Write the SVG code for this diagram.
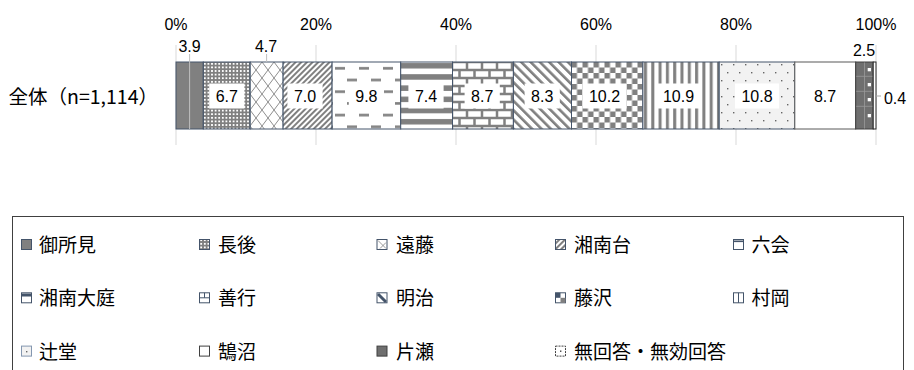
<svg xmlns="http://www.w3.org/2000/svg" width="914" height="370" viewBox="0 0 914 370">
<style>
.num{font-family:"Liberation Sans",Arial,sans-serif;font-size:16px;fill:#000;text-anchor:middle}
.jp{font-family:"Noto Sans CJK JP","Noto Sans",sans-serif;font-size:19px;fill:#000}
.grid{stroke:#d9d9d9;stroke-width:1}
.seg{stroke:#44546a;stroke-width:1}
.lbox{fill:#fff}
.lead{stroke:#bfbfbf;stroke-width:1;fill:none}
.sym{stroke:#44546a;stroke-width:1}
</style>
<defs>
<pattern id="p-chogo" patternUnits="userSpaceOnUse" x="203" y="62" width="3.6" height="3.6"><rect width="3.6" height="3.6" fill="#808080"/><rect x="0.9" y="0.9" width="1.8" height="1.8" fill="#fff"/></pattern>
<pattern id="p-endo" patternUnits="userSpaceOnUse" x="250" y="62" width="12" height="16"><rect width="12" height="16" fill="#fff"/><path d="M0 0L12 16M12 0L0 16" stroke="#808080" stroke-width="0.9"/></pattern>
<pattern id="p-shonandai" patternUnits="userSpaceOnUse" width="4" height="4" patternTransform="rotate(45)"><rect width="4" height="4" fill="#fff"/><rect width="2" height="4" fill="#808080"/></pattern>
<pattern id="p-mutsuai" patternUnits="userSpaceOnUse" x="332" y="62" width="24" height="23.4"><rect width="24" height="23.4" fill="#fff"/><rect x="3" y="5" width="10" height="2.6" fill="#808080"/><rect x="15" y="16.7" width="10" height="2.6" fill="#808080"/><rect x="-9" y="16.7" width="10" height="2.6" fill="#808080"/></pattern>
<pattern id="p-oba" patternUnits="userSpaceOnUse" x="0" y="62" width="8" height="11.2"><rect width="8" height="11.2" fill="#fff"/><rect y="1" width="8" height="5.5" fill="#808080"/></pattern>
<pattern id="p-zengyo" patternUnits="userSpaceOnUse" x="452" y="62" width="15" height="16"><rect width="15" height="16" fill="#808080"/><rect x="1.25" y="1.25" width="12.5" height="5.5" fill="#fff"/><rect x="8.75" y="9.25" width="12.5" height="5.5" fill="#fff"/><rect x="-6.25" y="9.25" width="12.5" height="5.5" fill="#fff"/></pattern>
<pattern id="p-meiji" patternUnits="userSpaceOnUse" width="6.6" height="6.6" patternTransform="rotate(-45)"><rect width="6.6" height="6.6" fill="#fff"/><rect width="2.6" height="6.6" fill="#808080"/></pattern>
<pattern id="p-fujisawa" patternUnits="userSpaceOnUse" x="571.5" y="62" width="11" height="11"><rect width="11" height="11" fill="#fff"/><rect width="5.5" height="5.5" fill="#808080"/><rect x="5.5" y="5.5" width="5.5" height="5.5" fill="#808080"/></pattern>
<pattern id="p-muraoka" patternUnits="userSpaceOnUse" x="643" y="0" width="7.3" height="10"><rect width="7.3" height="10" fill="#fff"/><rect x="1" width="3" height="10" fill="#808080"/></pattern>
<pattern id="p-tsujido" patternUnits="userSpaceOnUse" x="719" y="62" width="12" height="16"><rect width="12" height="16" fill="#f2f2f2"/><rect x="2" y="2" width="1.4" height="1.4" fill="#666"/><rect x="8" y="10" width="1.4" height="1.4" fill="#666"/></pattern>
</defs>
<rect width="914" height="370" fill="#fff"/>

<g id="axis">
<line class="grid" x1="176" y1="45" x2="176" y2="145"/>
<line class="grid" x1="316" y1="45" x2="316" y2="145"/>
<line class="grid" x1="456" y1="45" x2="456" y2="145"/>
<line class="grid" x1="596" y1="45" x2="596" y2="145"/>
<line class="grid" x1="736" y1="45" x2="736" y2="145"/>
<line class="grid" x1="876" y1="45" x2="876" y2="145"/>
<text class="num" x="176" y="30">0%</text>
<text class="num" x="316" y="30">20%</text>
<text class="num" x="456" y="30">40%</text>
<text class="num" x="596" y="30">60%</text>
<text class="num" x="736" y="30">80%</text>
<text class="num" x="876" y="30">100%</text>
</g>

<text id="category" class="jp" x="158" y="104" text-anchor="end" style="font-size:19.5px">全体（n=1,114）</text>

<g id="bar">
<g id="seg-goshomi"><rect class="seg" x="176" y="62" width="27.3" height="67" fill="#808080"/></g>
<g id="seg-chogo"><rect class="seg" x="203.3" y="62" width="46.9" height="67" fill="url(#p-chogo)"/></g>
<g id="seg-endo"><rect class="seg" x="250.2" y="62" width="32.9" height="67" fill="url(#p-endo)"/></g>
<g id="seg-shonandai"><rect class="seg" x="283.1" y="62" width="49" height="67" fill="url(#p-shonandai)"/></g>
<g id="seg-mutsuai"><rect class="seg" x="332.1" y="62" width="68.6" height="67" fill="url(#p-mutsuai)"/></g>
<g id="seg-shonanoba"><rect class="seg" x="400.7" y="62" width="51.8" height="67" fill="url(#p-oba)"/></g>
<g id="seg-zengyo"><rect class="seg" x="452.5" y="62" width="60.9" height="67" fill="url(#p-zengyo)"/></g>
<g id="seg-meiji"><rect class="seg" x="513.4" y="62" width="58.1" height="67" fill="url(#p-meiji)"/></g>
<g id="seg-fujisawa"><rect class="seg" x="571.5" y="62" width="71.4" height="67" fill="url(#p-fujisawa)"/></g>
<g id="seg-muraoka"><rect class="seg" x="642.9" y="62" width="76.3" height="67" fill="url(#p-muraoka)"/></g>
<g id="seg-tsujido"><rect class="seg" x="719.2" y="62" width="75.6" height="67" fill="url(#p-tsujido)" stroke="#8497b0"/></g>
<g id="seg-kugenuma"><rect x="794.8" y="62" width="60.9" height="67" fill="#fff" stroke="#595959" stroke-width="1"/></g>
<g id="seg-katase">
<rect x="855.7" y="62" width="17.5" height="67" fill="#6f6f6f" stroke="#404040" stroke-width="1"/>
<path d="M864.5 62.5V128.5M856.2 76.3H872.7M856.2 91.3H872.7M856.2 106.3H872.7" stroke="#9a9a9a" stroke-width="0.8" fill="none"/>
<rect x="867.7" y="68" width="3.3" height="3.3" fill="#fff"/>
<rect x="867.7" y="83" width="3.3" height="3.3" fill="#fff"/>
<rect x="867.7" y="98" width="3.3" height="3.3" fill="#fff"/>
<rect x="867.7" y="114" width="3.3" height="3.3" fill="#fff"/>
</g>
<g id="seg-noanswer"><rect x="873.2" y="62" width="2.8" height="67" fill="#fff" stroke="#262626" stroke-width="1"/></g>
</g>

<g id="connectors">
<line class="lead" x1="189.6" y1="54" x2="189.6" y2="129"/>
<line class="lead" x1="266.6" y1="54" x2="266.6" y2="62"/>
<line x1="876" y1="96" x2="881" y2="96" stroke="#a6a6a6" stroke-width="1"/>
</g>

<g id="data-labels">
<text class="num" x="189.6" y="52">3.9</text>
<text class="num" x="266" y="52">4.7</text>
<text class="num" x="864" y="56">2.5</text>
<text class="num" x="895" y="104">0.4</text>
<rect class="lbox" x="209.2" y="83.5" width="35.2" height="25"/><text class="num" x="226.8" y="102">6.7</text>
<rect class="lbox" x="287.4" y="83.5" width="35.2" height="25"/><text class="num" x="305" y="102">7.0</text>
<rect class="lbox" x="348.8" y="83.5" width="35.2" height="25"/><text class="num" x="366.4" y="102">9.8</text>
<rect class="lbox" x="408.4" y="83.5" width="35.2" height="25"/><text class="num" x="426" y="102">7.4</text>
<rect class="lbox" x="464.6" y="83.5" width="35.2" height="25"/><text class="num" x="482.2" y="102">8.7</text>
<rect class="lbox" x="524.6" y="83.5" width="35.2" height="25"/><text class="num" x="542.2" y="102">8.3</text>
<rect class="lbox" x="582.5" y="83.5" width="44" height="25"/><text class="num" x="604.5" y="102">10.2</text>
<rect class="lbox" x="656.5" y="83.5" width="44" height="25"/><text class="num" x="678.5" y="102">10.9</text>
<rect class="lbox" x="735" y="83.5" width="44" height="25"/><text class="num" x="757" y="102">10.8</text>
<text class="num" x="825" y="102">8.7</text>
</g>

<g id="legend">
<rect x="12.5" y="216.5" width="891" height="170" fill="none" stroke="#404040" stroke-width="1"/>
<g id="lg-goshomi"><rect class="sym" x="21.5" y="239.5" width="10" height="10" fill="#808080"/><text class="jp" x="39" y="252">御所見</text></g>
<g id="lg-chogo"><rect class="sym" x="199.5" y="239.5" width="10" height="10" fill="url(#p-chogo)"/><text class="jp" x="218" y="252">長後</text></g>
<g id="lg-endo"><rect class="sym" x="377" y="239.5" width="10" height="10" fill="#fff"/><path d="M378 240.5L386 248.5M380 248.5L386 242.5" stroke="#808080" stroke-width="0.8"/><text class="jp" x="396" y="252">遠藤</text></g>
<g id="lg-shonandai"><rect class="sym" x="555.5" y="239.5" width="10" height="10" fill="url(#p-shonandai)"/><text class="jp" x="574" y="252">湘南台</text></g>
<g id="lg-mutsuai"><rect class="sym" x="733.5" y="239.5" width="10" height="10" fill="#fff"/><rect x="733.5" y="240.5" width="10" height="1.6" fill="#44546a"/><text class="jp" x="751.5" y="252">六会</text></g>
<g id="lg-shonanoba"><rect class="sym" x="21.5" y="292.8" width="10" height="10" fill="#fff"/><rect x="21.5" y="293.5" width="10" height="3" fill="#44546a"/><text class="jp" x="39" y="305.3">湘南大庭</text></g>
<g id="lg-zengyo"><rect class="sym" x="199.5" y="292.8" width="10" height="10" fill="#fff"/><path d="M199.5 297.8H209.5M204.5 292.8V297.8" stroke="#44546a" stroke-width="1"/><text class="jp" x="218" y="305.3">善行</text></g>
<g id="lg-meiji"><rect class="sym" x="377" y="292.8" width="10" height="10" fill="#fff"/><path d="M378 294L386 302" stroke="#44546a" stroke-width="3"/><text class="jp" x="396" y="305.3">明治</text></g>
<g id="lg-fujisawa"><rect class="sym" x="555.5" y="292.8" width="10" height="10" fill="#fff"/><rect x="555.5" y="292.8" width="5" height="5" fill="#44546a"/><rect x="560.5" y="297.8" width="5" height="5" fill="#808080"/><text class="jp" x="574" y="305.3">藤沢</text></g>
<g id="lg-muraoka"><rect class="sym" x="733.5" y="292.8" width="10" height="10" fill="#fff"/><line x1="738.5" y1="292.8" x2="738.5" y2="302.8" stroke="#44546a" stroke-width="1"/><text class="jp" x="751.5" y="305.3">村岡</text></g>
<g id="lg-tsujido"><rect x="21.5" y="346.1" width="10" height="10" fill="#f2f2f2" stroke="#8497b0" stroke-width="1"/><rect x="26" y="351" width="1.4" height="1.4" fill="#666"/><text class="jp" x="39" y="358.6">辻堂</text></g>
<g id="lg-kugenuma"><rect x="199.5" y="346.1" width="10" height="10" fill="#fff" stroke="#404040" stroke-width="1"/><text class="jp" x="218" y="358.6">鵠沼</text></g>
<g id="lg-katase"><rect x="377" y="346.1" width="10" height="10" fill="#6f6f6f" stroke="#404040" stroke-width="1"/><text class="jp" x="396" y="358.6">片瀬</text></g>
<g id="lg-noanswer"><rect x="555.5" y="346.1" width="10" height="10" fill="#fff" stroke="#404040" stroke-width="1" stroke-dasharray="2 1"/><rect x="560" y="350.5" width="1.4" height="1.4" fill="#404040"/><text class="jp" x="574" y="358.6">無回答・無効回答</text></g>
</g>
</svg>
